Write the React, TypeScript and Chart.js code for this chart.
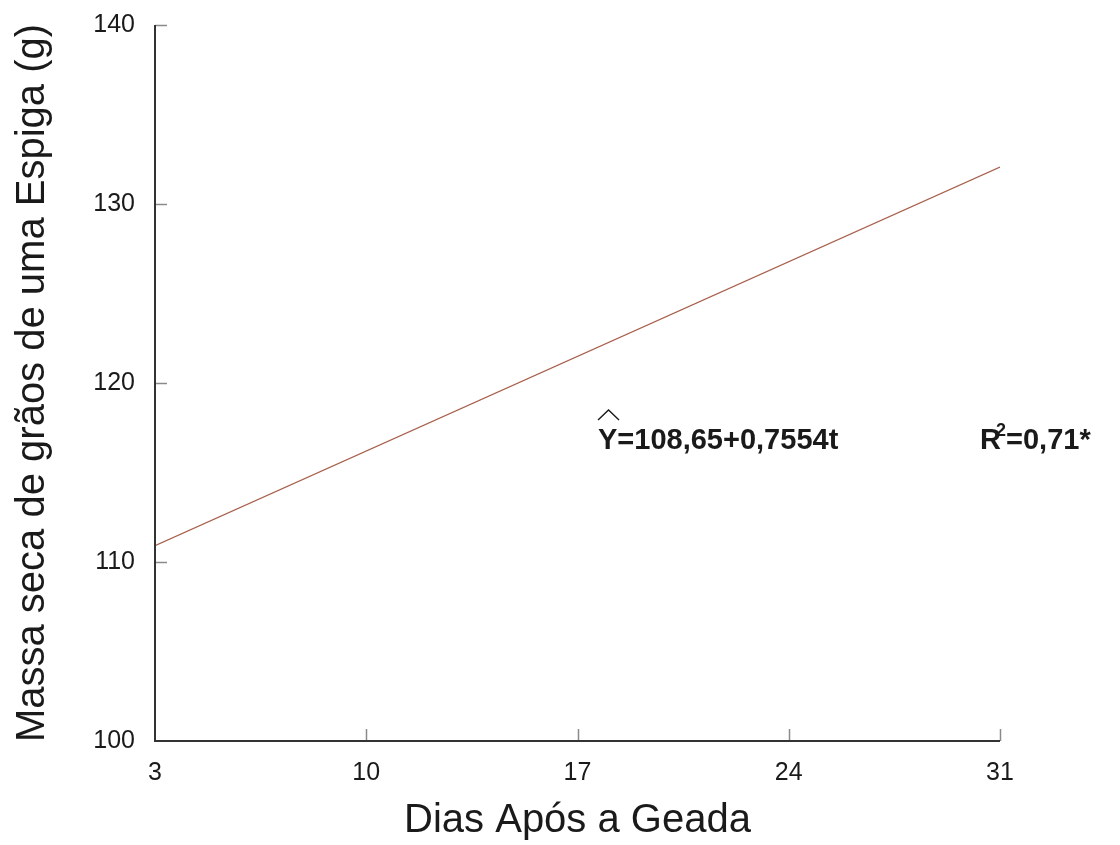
import React, { useEffect, useRef } from "react";
import { Chart, registerables } from "chart.js";

Chart.register(...registerables);

// Regression fitted over the observation window
const intercept = 108.65;
const slope = 0.7554;
const days = [3, 31];
const xTicks = [3, 10, 17, 24, 31];
const yTicks = [100, 110, 120, 130, 140];
const equationLabel = "Y=108,65+0,7554t";
const r2Label = "=0,71*";

const FONT = "'Liberation Sans', Arial, sans-serif";

const axesPlugin = {
  id: "innerAxes",
  afterDraw(chart: any) {
    const { ctx, chartArea, scales } = chart;
    const xs = scales.x;
    const ys = scales.y;
    ctx.save();
    // tick marks pointing into the plot
    ctx.strokeStyle = "#8a8a8a";
    ctx.lineWidth = 1.5;
    ctx.beginPath();
    yTicks.slice(1).forEach((v) => {
      const py = Math.round(ys.getPixelForValue(v)) + 0.5;
      ctx.moveTo(chartArea.left, py);
      ctx.lineTo(chartArea.left + 12, py);
    });
    xTicks.slice(1).forEach((v) => {
      const px = Math.round(xs.getPixelForValue(v)) + 0.5;
      ctx.moveTo(px, chartArea.bottom);
      ctx.lineTo(px, chartArea.bottom - 12);
    });
    ctx.stroke();
    // axis lines
    ctx.strokeStyle = "#333333";
    ctx.lineWidth = 2;
    ctx.beginPath();
    ctx.moveTo(chartArea.left, chartArea.top);
    ctx.lineTo(chartArea.left, chartArea.bottom);
    ctx.lineTo(chartArea.right, chartArea.bottom);
    ctx.stroke();

    // regression equation
    const ex = xs.getPixelForValue(17.68);
    const ey = ys.getPixelForValue(116.76);
    ctx.fillStyle = "#1a1a1a";
    ctx.textBaseline = "middle";
    ctx.textAlign = "left";
    ctx.font = `bold 29px ${FONT}`;
    ctx.fillText(equationLabel, ex, ey);
    // hat over Y
    ctx.strokeStyle = "#1a1a1a";
    ctx.lineWidth = 1.4;
    ctx.beginPath();
    ctx.moveTo(ex, ey - 21);
    ctx.lineTo(ex + 10.5, ey - 31);
    ctx.lineTo(ex + 21, ey - 21);
    ctx.stroke();

    // coefficient of determination
    const rx = xs.getPixelForValue(30.34);
    ctx.font = `bold 29px ${FONT}`;
    ctx.fillText("R", rx, ey);
    const rw = ctx.measureText("R").width;
    ctx.font = `bold 18px ${FONT}`;
    ctx.fillText("2", rx + rw - 5, ey - 10);
    const sw = ctx.measureText("2").width;
    ctx.font = `bold 29px ${FONT}`;
    ctx.fillText(r2Label, rx + rw - 5 + sw, ey);
    ctx.restore();
  },
};

const clearPadding = (s: any) => {
  s.paddingTop = 0;
  s.paddingBottom = 0;
  s.paddingLeft = 0;
  s.paddingRight = 0;
};

export default function App() {
  const ref = useRef<HTMLCanvasElement>(null);

  useEffect(() => {
    if (!ref.current) return;
    const points = days.map((t) => ({ x: t, y: intercept + slope * t }));
    const chart = new Chart(ref.current, {
      type: "line",
      data: {
        datasets: [
          {
            data: points,
            borderColor: "#a8604c",
            borderWidth: 1.2,
            pointRadius: 0,
            fill: false,
            tension: 0,
          },
        ],
      },
      options: {
        responsive: false,
        animation: false,
        layout: { padding: { left: 0, top: 25, right: 120, bottom: 0 } },
        plugins: { legend: { display: false }, tooltip: { enabled: false } },
        scales: {
          x: {
            type: "linear",
            min: 3,
            max: 31,
            grid: { display: false, drawTicks: false },
            border: { display: false },
            afterBuildTicks: (s: any) => {
              s.ticks = xTicks.map((v) => ({ value: v }));
            },
            afterFit: (s: any) => {
              s.height = 104;
              clearPadding(s);
            },
            ticks: {
              color: "#1a1a1a",
              font: { family: FONT, size: 25 },
              padding: 17,
              maxRotation: 0,
              autoSkip: false,
            },
            title: {
              display: true,
              text: "Dias Após a Geada",
              color: "#1a1a1a",
              font: { family: FONT, size: 40 },
              padding: 0,
            },
          },
          y: {
            type: "linear",
            min: 100,
            max: 140,
            grid: { display: false, drawTicks: false },
            border: { display: false },
            afterBuildTicks: (s: any) => {
              s.ticks = yTicks.map((v) => ({ value: v }));
            },
            afterFit: (s: any) => {
              s.width = 155;
              clearPadding(s);
            },
            ticks: {
              color: "#1a1a1a",
              font: { family: FONT, size: 25 },
              padding: 20,
              autoSkip: false,
            },
            title: {
              display: true,
              text: "Massa seca de grãos de uma Espiga (g)",
              color: "#1a1a1a",
              font: { family: FONT, size: 40 },
              padding: { top: 9, bottom: 0 },
            },
          },
        },
      },
      plugins: [axesPlugin],
    });
    return () => chart.destroy();
  }, []);

  return (
    <div style={{ position: "absolute", left: 0, top: 0, width: 1120, height: 845, background: "#fff" }}>
      <canvas ref={ref} width={1120} height={845} />
    </div>
  );
}
